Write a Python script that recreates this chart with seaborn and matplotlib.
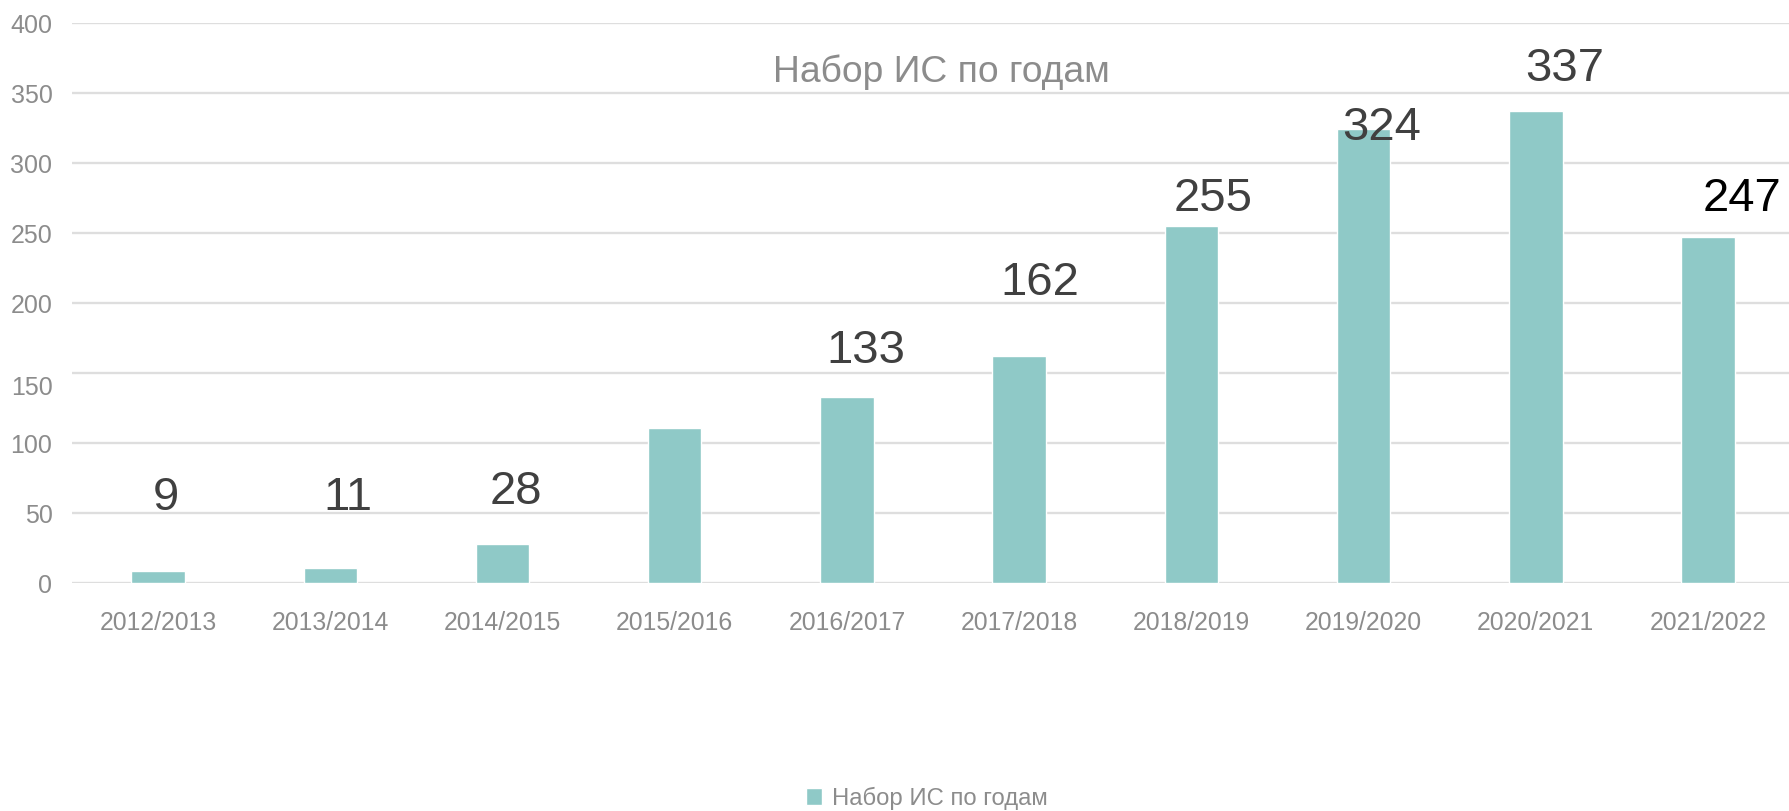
import matplotlib
matplotlib.use("Agg")
import matplotlib.pyplot as plt
from matplotlib.ticker import FixedFormatter
import seaborn as sns
import pandas as pd

years = ["2012/2013", "2013/2014", "2014/2015", "2015/2016", "2016/2017",
         "2017/2018", "2018/2019", "2019/2020", "2020/2021", "2021/2022"]
values = [9, 11, 28, 111, 133, 162, 255, 324, 337, 247]
labels = ["9", "11", "28", "", "133", "162", "255", "324", "337", "247"]
series_name = "Набор ИС по годам"
yticks = [0, 50, 100, 150, 200, 250, 300, 350, 400]

# where the value labels sit (hand placed in the original)
label_dx = [0.047, 0.1, 0.08, 0.0, 0.11, 0.12, 0.126, 0.106, 0.17, 0.2]
label_y = [61, 61, 65, 0, 166, 214, 274, 325, 367, 274]
label_colors = ["#404040"] * 9 + ["#000000"]

sns.set_style("white")
plt.rcParams["font.family"] = ["Liberation Sans", "DejaVu Sans"]

df = pd.DataFrame({"year": years, "value": values})

fig = plt.figure(figsize=(17.89, 8.11), dpi=100)
ax = fig.add_axes([0.0402, 0.281, 0.9598, 0.6906])

sns.barplot(data=df, x="year", y="value", color="#8fc9c7", width=0.31,
            saturation=1, label=series_name, ax=ax, zorder=3)

ax.set_ylim(0, 400)
ax.set_xlim(-0.5, 9.47)
ax.set_yticks(yticks)
# the "150" label is drawn a bit lower in the original, so it is added separately
ax.yaxis.set_major_formatter(FixedFormatter(["" if t == 150 else str(t) for t in yticks]))
ax.annotate("150", xy=(0, 150), xycoords=("axes fraction", "data"),
            xytext=(-14, -11), textcoords="offset points", ha="right", va="center",
            fontsize=18, color="#8c8c8c")

ax.yaxis.grid(True, color="#dedede", linewidth=1.7)
for line in ax.get_ygridlines():
    line.set_zorder(4)
for s in ["top", "right", "left", "bottom"]:
    ax.spines[s].set_visible(False)
ax.set_xlabel("")
ax.set_ylabel("")
ax.tick_params(axis="x", length=0, pad=20, labelsize=17.8, labelcolor="#8c8c8c")
ax.tick_params(axis="y", length=0, pad=14, labelsize=18, labelcolor="#8c8c8c")

for i, txt in enumerate(labels):
    if txt:
        ax.text(i + label_dx[i], label_y[i], txt, ha="center", va="center",
                fontsize=34, color=label_colors[i], zorder=6)

fig.text(0.526, 0.911, series_name, ha="center", va="center",
         fontsize=26.8, color="#8c8c8c")

leg = ax.legend(loc="center", bbox_to_anchor=(0.518, 0.016),
                bbox_transform=fig.transFigure, frameon=False, fontsize=17.2,
                handlelength=0.7, handleheight=0.7, handletextpad=0.4)
for t in leg.get_texts():
    t.set_color("#8c8c8c")

fig.savefig("out.png", dpi=100)
